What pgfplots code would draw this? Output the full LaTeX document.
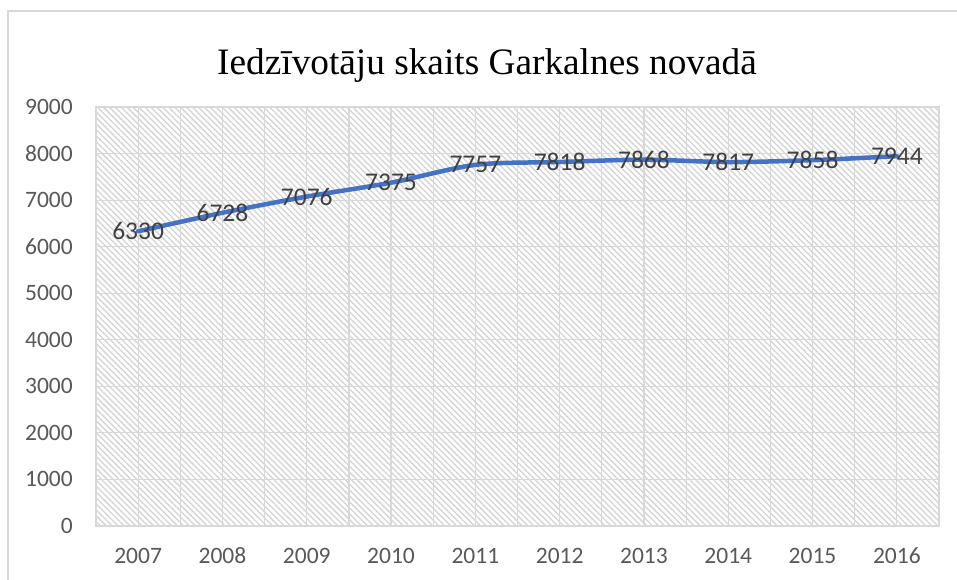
\documentclass[border=0pt]{standalone}
\usepackage{fontspec}
\setmainfont{Carlito}
\newfontfamily\titlefont{Liberation Serif}
\usepackage{pgfplots}
\pgfplotsset{compat=1.18}
\usetikzlibrary{patterns.meta}
\definecolor{tickgray}{HTML}{595959}
\definecolor{labelgray}{HTML}{404040}
\definecolor{gridgray}{HTML}{D9D9D9}
\definecolor{hatch}{HTML}{D4D4D4}
\definecolor{lineblue}{HTML}{4472C4}
\begin{document}
\begin{tikzpicture}[x=1pt,y=1pt]
\useasboundingbox (0,0) rectangle (957,580);
\fill[white] (0,0) rectangle (957,580);
\draw[gridgray, line width=1.2pt] (8,0) -- (8,569) -- (957,569);
\node[anchor=base, font=\titlefont\fontsize{37.3}{44}\selectfont, text=black] at (487,505) {Iedzīvotāju skaits Garkalnes novadā};
\begin{axis}[
  at={(96pt,54pt)}, anchor=south west, scale only axis,
  width=843pt, height=419pt,
  xmin=-0.5, xmax=9.5, ymin=0, ymax=9000,
  xtick={0,1,2,3,4,5,6,7,8,9},
  xticklabels={2007,2008,2009,2010,2011,2012,2013,2014,2015,2016},
  minor xtick={-0.5,0.5,1.5,2.5,3.5,4.5,5.5,6.5,7.5,8.5,9.5},
  ytick={0,1000,2000,3000,4000,5000,6000,7000,8000,9000},
  major tick length=0pt, minor tick length=0pt,
  grid=both,
  major grid style={draw=gridgray, line width=1.2pt},
  minor grid style={draw=gridgray, line width=1.2pt},
  axis line style={draw=gridgray, line width=1.2pt},
  axis background/.style={pattern={Lines[angle=-45,distance=4.2pt,line width=1.3pt]}, pattern color=hatch},
  /pgf/number format/assume math mode=true,
  /pgf/number format/1000 sep={},
  yticklabel style={font=\fontsize{23.5}{28}\selectfont, text=tickgray, anchor=east, inner sep=0pt, xshift=-23pt},
  xticklabel style={font=\fontsize{23.5}{28}\selectfont, text=tickgray, anchor=base, inner sep=0pt, yshift=-37pt},
  point meta=explicit symbolic,
  nodes near coords,
  nodes near coords style={anchor=center, font=\fontsize{25.5}{30}\selectfont, text=labelgray, inner sep=0pt},
  clip=false,
]
\addplot[lineblue, line width=4.5pt, smooth, line cap=round] coordinates {
  (0,6330) [6330]
  (1,6728) [6728]
  (2,7076) [7076]
  (3,7375) [7375]
  (4,7757) [7757]
  (5,7818) [7818]
  (6,7868) [7868]
  (7,7817) [7817]
  (8,7858) [7858]
  (9,7944) [7944]
};
\end{axis}
\end{tikzpicture}
\end{document}
